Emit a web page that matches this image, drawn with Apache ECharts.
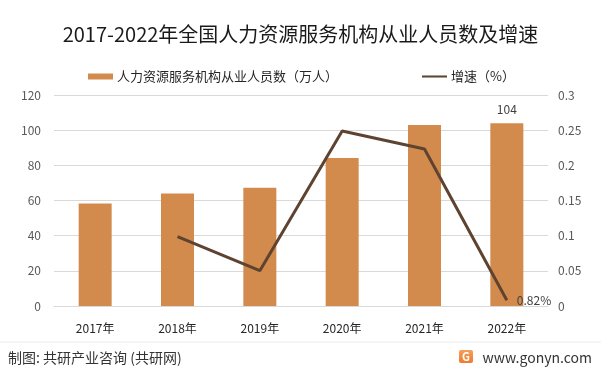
<!DOCTYPE html>
<html><head><meta charset="utf-8">
<script src="https://cdn.jsdelivr.net/npm/echarts@6/dist/echarts.min.js"></script>
<style>html,body{margin:0;padding:0;background:#fff}#c{width:601px;height:375px}</style>
</head><body><div id="c"></div>
<script>
const categories = ['2017年','2018年','2019年','2020年','2021年','2022年'];
const staff = [58.3, 64.0, 67.2, 84.2, 102.9, 104.0];
const growth = [null, 0.0985, 0.0502, 0.2488, 0.2232, 0.0082];
const leftTicks = [0, 20, 40, 60, 80, 100, 120];
const rightTicks = [0, 0.05, 0.1, 0.15, 0.2, 0.25, 0.3];

const chart = echarts.init(document.getElementById('c'), null, {renderer:'canvas'});
const font = '"Microsoft YaHei","Noto Sans CJK SC",sans-serif';
chart.setOption({
  animation:false,
  textStyle:{fontFamily:font},
  title:{text:'2017-2022年全国人力资源服务机构从业人员数及增速',left:'center',top:19,
    textStyle:{fontSize:20,fontWeight:'normal',color:'#1a1a1a',fontFamily:font}},
  legend:{top:65,left:83,itemGap:84,itemWidth:25,itemHeight:6,
    textStyle:{fontSize:13,color:'#262626',fontFamily:font,padding:[0,0,0,-1]},
    data:[{name:'人力资源服务机构从业人员数（万人）',icon:'rect'},
          {name:'增速（%）',icon:'path://M0,0L27,0L27,2.2L0,2.2Z'}]},
  grid:{left:54,right:53,top:95,bottom:69,containLabel:false},
  xAxis:{type:'category',data:categories,
    axisLine:{lineStyle:{color:'#d9d9d9'}},axisTick:{show:false},
    axisLabel:{color:'#262626',fontSize:12,margin:16}},
  yAxis:[
    {type:'value',min:leftTicks[0],max:leftTicks[leftTicks.length-1],interval:20,
     axisLabel:{color:'#595959',fontSize:12,margin:13},
     splitLine:{lineStyle:{color:'#d9d9d9'}},axisLine:{show:false},axisTick:{show:false}},
    {type:'value',min:rightTicks[0],max:rightTicks[rightTicks.length-1],interval:0.05,
     axisLabel:{color:'#595959',fontSize:12,margin:10,formatter:v=>String(+v.toFixed(2))},
     splitLine:{show:false},axisLine:{show:false},axisTick:{show:false}}
  ],
  series:[
    {name:'人力资源服务机构从业人员数（万人）',type:'bar',data:staff.map((v,i)=>i===staff.length-1?{value:v,label:{show:true,position:'top',distance:8,color:'#404040',fontSize:12,formatter:p=>Math.round(p.value)}}:v),
     barWidth:33,itemStyle:{color:'#D38B4D'}},
    {name:'增速（%）',type:'line',yAxisIndex:1,
     data:growth.map((v,i)=>i===growth.length-1?{value:v,label:{show:true,position:'right',distance:10,color:'#404040',fontSize:12,formatter:p=>(p.value*100).toFixed(2)+'%'}}:v),
     symbol:'circle',symbolSize:0,showSymbol:true,lineStyle:{color:'#5E4330',width:3},itemStyle:{color:'#5E4330'},connectNulls:false}
  ],
  graphic:[
    {type:'line',shape:{x1:0,y1:342,x2:601,y2:342},style:{stroke:'#ececec',lineWidth:1}},
    {type:'text',x:8,y:358,style:{text:'制图: 共研产业咨询 (共研网)',fontSize:14,fill:'#333',verticalAlign:'middle',fontFamily:font}},
    {type:'rect',shape:{x:459,y:350,width:14,height:13,r:2},
     style:{fill:new echarts.graphic.LinearGradient(0,0,0,1,[{offset:0,color:'#F4A05A'},{offset:1,color:'#F07A2E'}])}},
    {type:'text',x:466,y:357,style:{text:'G',fontSize:11,fontWeight:'bold',fill:'#fff',align:'center',verticalAlign:'middle',fontFamily:font}},
    {type:'text',x:592,y:358,style:{text:'www.gonyn.com',fontSize:14,fill:'#333',align:'right',verticalAlign:'middle',fontFamily:font}}
  ]
});
</script></body></html>
